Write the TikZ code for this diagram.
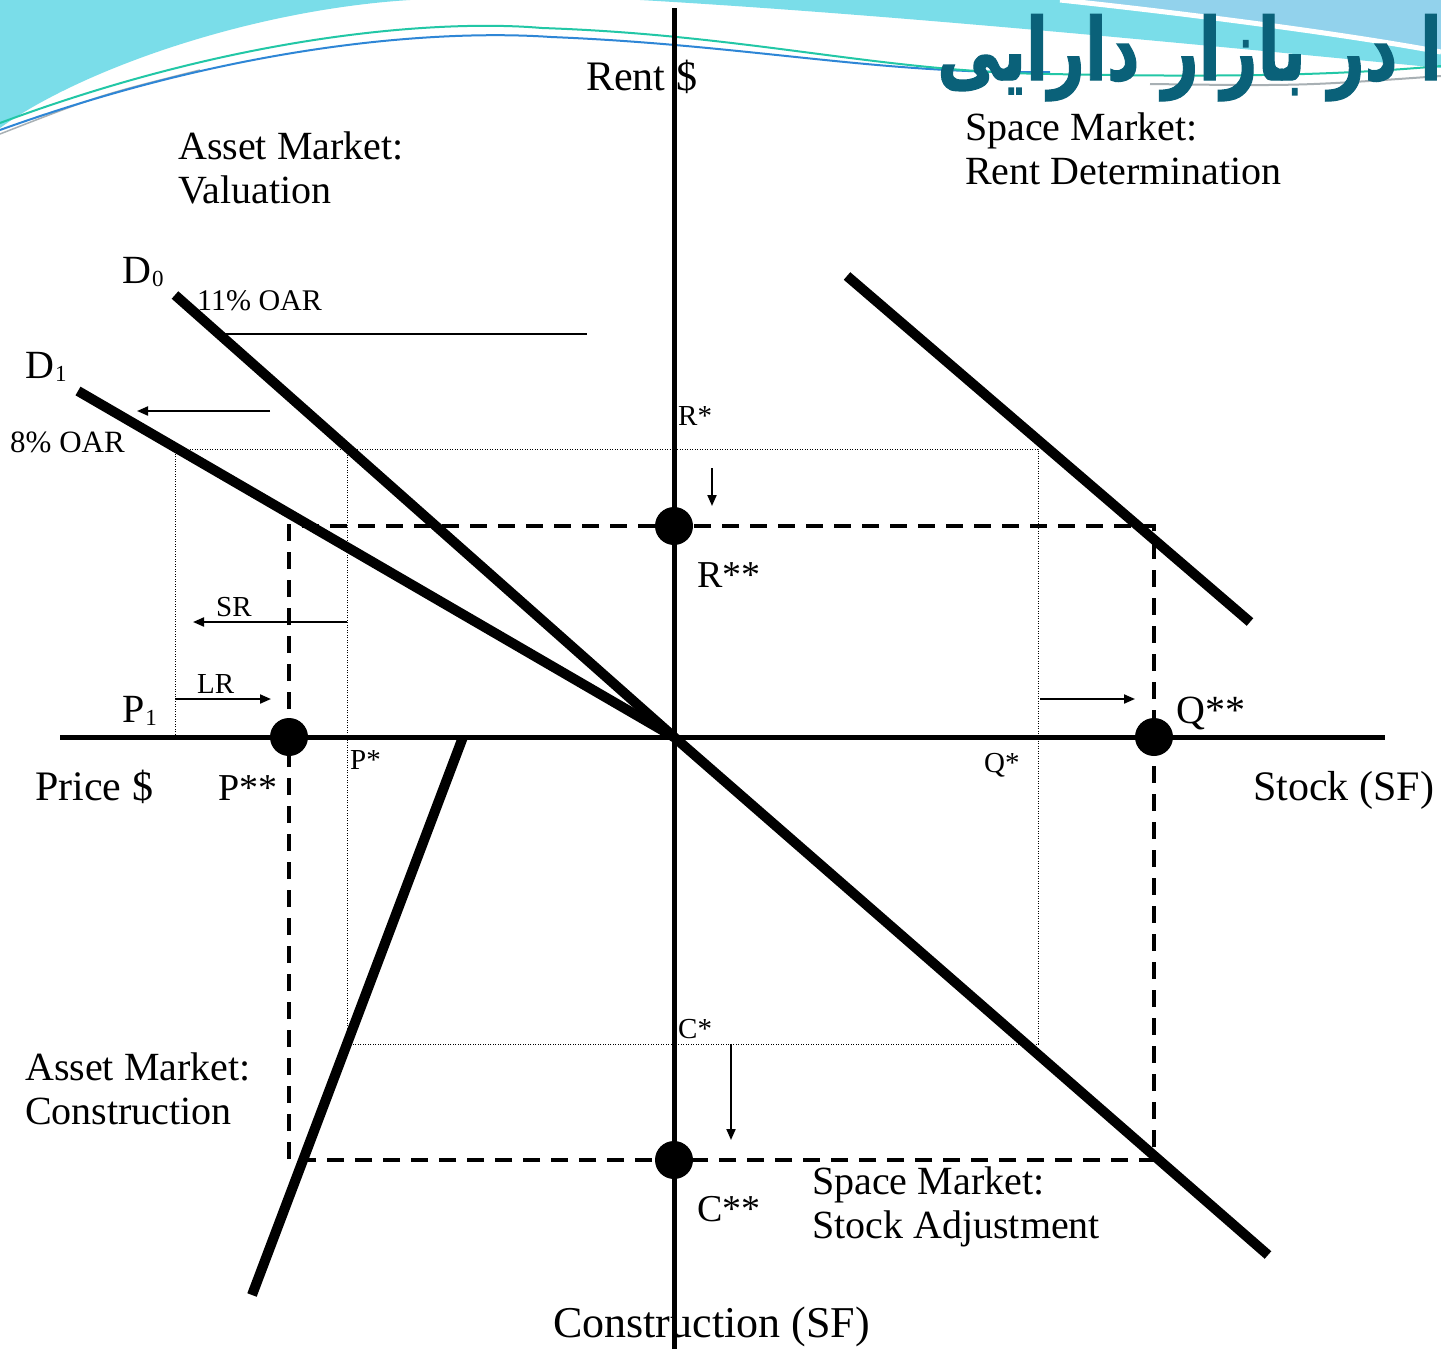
\documentclass[tikz,border=0pt]{standalone}
\usepackage{fontspec}
\setmainfont{Liberation Serif}
\newfontfamily\arabicfont[Script=Arabic,BoldFeatures={FakeBold=1.5}]{DejaVu Sans}
\TeXXeTstate=1
\usetikzlibrary{arrows.meta}
\definecolor{slideCyan}{HTML}{7ADDE9}
\definecolor{slideSky}{HTML}{92D2EC}
\definecolor{slideTeal}{HTML}{0A6179}
\definecolor{swirlBlue}{HTML}{2E86D6}
\definecolor{swirlGreen}{HTML}{22C7A6}
\definecolor{swirlGrey}{HTML}{A8B0B4}
\newcommand{\lowsub}[2]{#1\kern1pt\raisebox{-3pt}{\fontsize{23}{23}\selectfont #2}}

\begin{document}
\begin{tikzpicture}[
  x=1pt, y=-1pt,
  axis/.style={line width=5pt},
  curve/.style={line width=10pt},
  guide/.style={line width=3.5pt, dash pattern=on 17pt off 11pt},
  faint/.style={line width=0.8pt, dash pattern=on 1pt off 1.5pt},
  shiftarrow/.style={-{Triangle[length=11pt,width=9pt]}, line width=2pt},
  dot/.style={circle, fill, inner sep=0pt, minimum size=38pt},
  big/.style={inner sep=0pt, anchor=base west, font=\fontsize{42}{44}\selectfont},
  mid/.style={inner sep=0pt, anchor=base west, font=\fontsize{38}{44}\selectfont},
  small/.style={inner sep=0pt, anchor=base west, font=\fontsize{29}{32}\selectfont},
  block/.style={inner sep=0pt, anchor=north west, align=left, font=\fontsize{40}{44}\selectfont}
]
  \clip (0,0) rectangle (1441,1349);
  \fill[white] (0,0) rectangle (1441,1349);
  \fill[slideCyan] (0,0) -- (410,0) .. controls (250,10) and (80,70) .. (0,128) -- cycle;
  \fill[slideCyan] (640,0) .. controls (900,15) and (1200,45) .. (1441,68) -- (1441,0) -- cycle;
  \fill[slideSky] (1060,0) .. controls (1200,15) and (1350,35) .. (1441,50) -- (1441,0) -- cycle;
  \draw[white, line width=5pt] (1060,0) .. controls (1200,15) and (1350,35) .. (1441,52);
  \draw[swirlGrey, line width=1.5pt] (0,134) .. controls (100,95) .. (200,70);
  \draw[swirlGrey, line width=2pt] (1150,84) .. controls (1300,86) .. (1441,76);
  \draw[swirlBlue, line width=2pt] (0,130) .. controls (250,40) and (450,30) .. (551,37)
    .. controls (750,45) and (880,75) .. (1050,72);
  \draw[swirlGreen, line width=2pt] (0,123) .. controls (250,30) and (450,20) .. (542,28)
    .. controls (750,35) and (880,72) .. (1050,74) .. controls (1250,78) and (1350,74) .. (1441,66);

  \node[anchor=base east, inner sep=0pt, text=slideTeal,
    font=\arabicfont\bfseries\fontsize{64}{64}\selectfont] (title) at (1442,80)
    {\scalebox{1}[1.35]{\beginR ا در بازار دارایی\endR}};

  \coordinate (O) at (674,737);
  \coordinate (R) at (674,526);
  \coordinate (P) at (289,737);
  \coordinate (Q) at (1154,737);
  \coordinate (C) at (674,1160);
  \coordinate (ps) at (347,737);
  \coordinate (qs) at (1038,737);
  \coordinate (p1) at (175,737);
  \coordinate (rstar) at (674,449);
  \coordinate (cstar) at (674,1044);

  \draw[faint] (p1) |- (qs |- rstar) -- (qs |- cstar) -| (ps |- rstar);
  \draw[guide] (P) |- (R) -| (Q) |- (C) -| (P);

  \draw[axis] (674,8) -- (674,1349);
  \draw[axis] (60,737) -- (1385,737);

  \draw[curve] (175,295) -- (O) -- (1268,1255);
  \draw[curve] (78,391) -- (O);
  \draw[curve] (847,276) -- (1250,622);
  \draw[curve] (463,737) -- (252,1295);

  \draw[line width=2pt] (220,334) -- (587,334);
  \draw[shiftarrow] (270,411) -- (137,411);
  \draw[shiftarrow] (ps |- 0,622) -- (193,622);
  \draw[shiftarrow] (p1 |- 0,699) -- (271,699);
  \draw[shiftarrow] (1040,699) -- (1135,699);
  \draw[shiftarrow] (712,468) -- (712,506);
  \draw[shiftarrow] (731,1044) -- (731,1140);

  \node[dot] (rdot) at (R) {};
  \node[dot] (pdot) at (P) {};
  \node[dot] (qdot) at (Q) {};
  \node[dot] (cdot) at (C) {};

  \node[big] (rent) at (586,90) {Rent \$};
  \node[big] (price) at (35,800) {Price \$};
  \node[big] (stock) at (1253,800) {Stock (SF)};
  \node[big, font=\fontsize{44}{44}\selectfont] (constr) at (553,1337) {Construction (SF)};
  \node[block] (valuation) at (178,132) {Asset Market:\\Valuation};
  \node[block] (rentdet) at (965,113) {Space Market:\\Rent Determination};
  \node[block] (construct) at (25,1053) {Asset Market:\\Construction};
  \node[block] (stockadj) at (812,1167) {Space Market:\\Stock Adjustment};
  \node[big, font=\fontsize{40}{44}\selectfont] (dzero) at (122,283) {\lowsub{D}{0}};
  \node[big, font=\fontsize{40}{44}\selectfont] (done) at (25,378) {\lowsub{D}{1}};
  \node[big, font=\fontsize{40}{44}\selectfont] (pone) at (122,722) {\lowsub{P}{1}};
  \node[small, font=\fontsize{30}{32}\selectfont] (oar11) at (197,310) {11\% OAR};
  \node[small, font=\fontsize{31}{32}\selectfont] (oar8) at (10,452) {8\% OAR};
  \node[small] (rs) at (678,425) {R*};
  \node[small] (cs) at (678,1038) {C*};
  \node[small] (pst) at (350,769) {P*};
  \node[small] (qst) at (984,772) {Q*};
  \node[small] (sr) at (216,616) {SR};
  \node[small] (lr) at (197,693) {LR};
  \node[mid] (rss) at (697,587) {R**};
  \node[mid] (pss) at (218,800) {P**};
  \node[mid, font=\fontsize{40}{44}\selectfont] (qss) at (1176,723) {Q**};
  \node[mid] (css) at (697,1221) {C**};
\end{tikzpicture}
\end{document}
